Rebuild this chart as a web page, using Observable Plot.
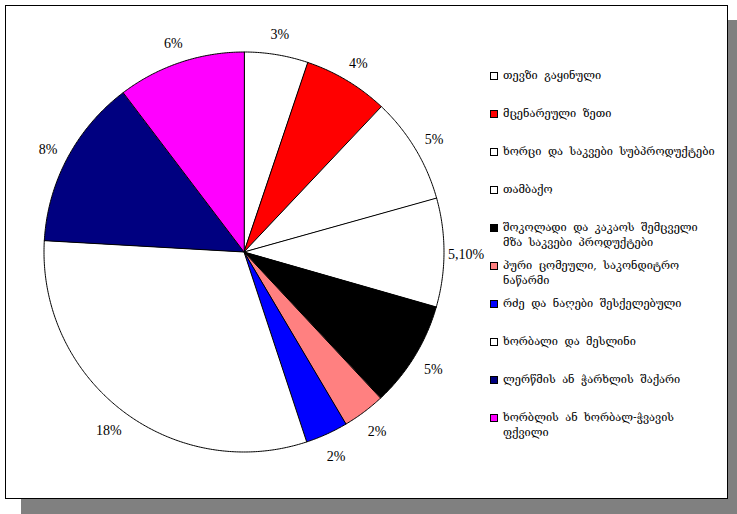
<!DOCTYPE html>
<html>
<head>
<meta charset="utf-8">
<script src="https://cdn.jsdelivr.net/npm/d3@7"></script>
<script src="https://cdn.jsdelivr.net/npm/@observablehq/plot@0.6"></script>
<style>
  html, body { margin: 0; padding: 0; background: #fff; }
  #wrap { position: relative; width: 737px; height: 514px; overflow: hidden; }
  #shadow { position: absolute; left: 21px; top: 20px; width: 716px; height: 494px; background: #808080; }
  #frame { position: absolute; left: 5px; top: 5px; width: 721px; height: 492px; background: #fff; border: 1px solid #000; }
  #chart { position: absolute; left: 0; top: 0; }
  #legend { position: absolute; left: 0; top: 0; font-family: "DejaVu Serif", "DejaVu Sans", serif; font-size: 11px; color: #000; }
  .item { position: absolute; left: 490px; line-height: 15px; white-space: pre; word-spacing: 3px; }
  .sw { position: absolute; left: 0; top: 4px; width: 6px; height: 6px; border: 1px solid #000; }
  .lbl { position: absolute; left: 13px; top: 0; }
</style>
</head>
<body>
<div id="wrap">
  <div id="shadow"></div>
  <div id="frame"></div>
  <div id="chart"></div>
  <div id="legend"></div>
</div>
<script>
const categories = [
  "თევზი გაყინული",
  "მცენარეული ზეთი",
  "ხორცი და საკვები სუბპროდუქტები",
  "თამბაქო",
  "შოკოლადი და კაკაოს შემცველი\nმზა საკვები პროდუქტები",
  "პური ცომეული, საკონდიტრო\nნაწარმი",
  "რძე და ნაღები შესქელებული",
  "ხორბალი და მესლინი",
  "ლერწმის ან ჭარხლის შაქარი",
  "ხორბლის ან ხორბალ-ჭვავის\nფქვილი"
];
const values = [3, 4, 5, 5.1, 5, 2, 2, 18, 8, 6];
const valueLabels = ["3%", "4%", "5%", "5,10%", "5%", "2%", "2%", "18%", "8%", "6%"];
const colors = ["#FFFFFF", "#FF0000", "#FFFFFF", "#FFFFFF", "#000000", "#FF8080", "#0000FF", "#FFFFFF", "#000080", "#FF00FF"];

// build wedges from data
const pieGen = d3.pie().sort(null).value(d => d)(values);
const wedgePts = [];
const labelPts = [];
pieGen.forEach((p, i) => {
  const a0 = p.startAngle, a1 = p.endAngle;
  wedgePts.push({k: i, x: 0, y: 0, c: colors[i]});
  const n = Math.max(2, Math.ceil((a1 - a0) / (Math.PI / 360)));
  for (let j = 0; j <= n; j++) {
    const a = a0 + (a1 - a0) * j / n;
    wedgePts.push({k: i, x: Math.sin(a), y: Math.cos(a), c: colors[i]});
  }
  const m = (a0 + a1) / 2;
  labelPts.push({t: valueLabels[i], x: 1.11 * Math.sin(m), y: 1.11 * Math.cos(m)});
});

const chart = Plot.plot({
  width: 737,
  height: 514,
  margin: 0,
  style: {background: "transparent"},
  x: {domain: [-1, 1], range: [43.5, 443.5], axis: null},
  y: {domain: [-1, 1], range: [451.5, 51.5], axis: null},
  marks: [
    Plot.line(wedgePts, {x: "x", y: "y", z: "k", fill: "c", stroke: "#000", strokeWidth: 1, curve: "linear-closed", strokeLinejoin: "round"}),
    Plot.text(labelPts, {x: "x", y: "y", dy: 2, text: "t", fontFamily: "Liberation Serif, Times New Roman, serif", fontSize: 14, fill: "#000"})
  ]
});
document.getElementById("chart").appendChild(chart);

const legend = document.getElementById("legend");
categories.forEach((c, i) => {
  const it = document.createElement("div");
  it.className = "item";
  it.style.top = (67.5 + 38 * i) + "px";
  const sw = document.createElement("div");
  sw.className = "sw";
  sw.style.background = colors[i];
  const lb = document.createElement("div");
  lb.className = "lbl";
  lb.textContent = c;
  it.appendChild(sw);
  it.appendChild(lb);
  legend.appendChild(it);
});
</script>
</body>
</html>
